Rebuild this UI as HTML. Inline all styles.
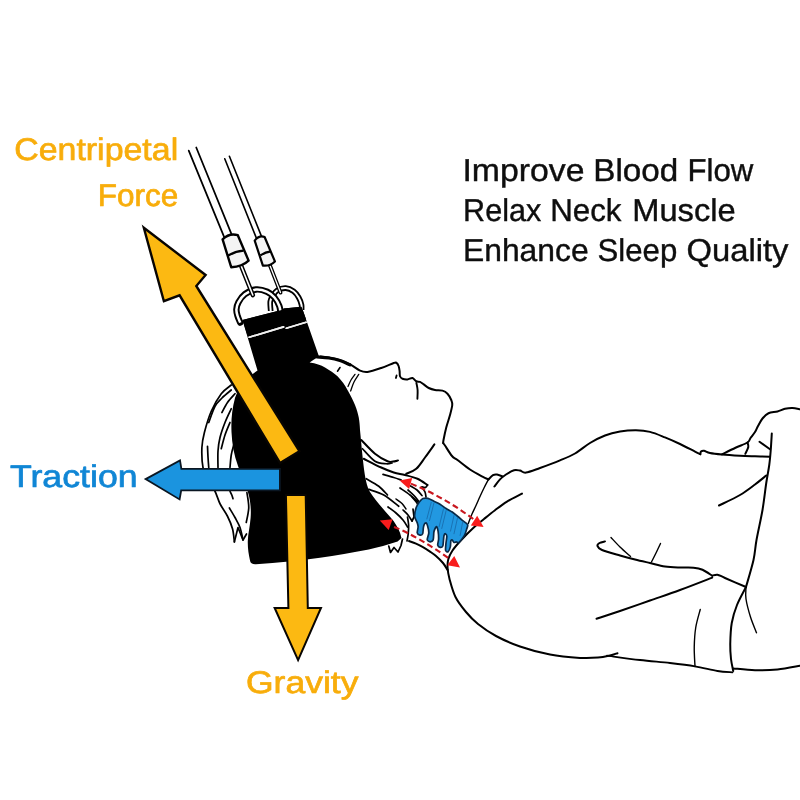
<!DOCTYPE html>
<html lang="en">
<head>
<meta charset="utf-8">
<title>Neck Hammock - Centripetal Force, Traction, Gravity</title>
<style>
html,body{margin:0;padding:0;background:#fff;}
body{width:800px;height:800px;overflow:hidden;font-family:"Liberation Sans",sans-serif;}
svg{display:block;position:absolute;left:0;top:0;}
text{font-family:"Liberation Sans",sans-serif;text-rendering:geometricPrecision;}
</style>
</head>
<body>
<svg width="800" height="800" viewBox="0 0 800 800" style="will-change:transform">
<rect x="0" y="0" width="800" height="800" fill="#ffffff"/>
<path d="M320.60 356.50 C322.00 356.68 326.18 357.12 329.00 357.60 C331.82 358.08 334.00 358.27 337.50 359.40 C341.00 360.53 346.25 362.53 350.00 364.40 C353.75 366.27 357.08 369.35 360.00 370.60 C362.92 371.85 363.96 372.33 367.50 371.90 C371.04 371.47 376.88 369.48 381.25 368.00 C385.62 366.52 391.21 363.87 393.75 363.00 C396.29 362.13 395.69 362.30 396.50 362.80 C397.31 363.30 398.08 364.63 398.60 366.00 C399.12 367.37 399.37 369.29 399.60 371.00 C399.83 372.71 399.52 374.96 400.00 376.25 C400.48 377.54 401.25 378.23 402.50 378.75 C403.75 379.27 405.83 379.52 407.50 379.40 C409.17 379.27 411.04 377.69 412.50 378.00 C413.96 378.31 415.00 380.60 416.25 381.25 C417.50 381.90 418.75 381.38 420.00 381.90 C421.25 382.42 422.29 383.38 423.75 384.40 C425.21 385.42 426.88 387.07 428.75 388.00 C430.62 388.93 432.71 389.57 435.00 390.00 C437.29 390.43 440.42 389.98 442.50 390.60 C444.58 391.23 446.04 392.18 447.50 393.75 C448.96 395.32 450.46 398.12 451.25 400.00 C452.04 401.88 452.46 402.50 452.25 405.00 C452.04 407.50 451.00 411.25 450.00 415.00 C449.00 418.75 447.33 423.33 446.25 427.50 C445.17 431.67 444.01 437.42 443.50 440.00 C442.99 442.58 443.25 442.50 443.20 443.00" fill="none" stroke="#000" stroke-width="2.0" stroke-linecap="round" stroke-linejoin="round" />
<path d="M317.00 357.00 C319.00 357.17 325.17 357.40 329.00 358.00 C332.83 358.60 336.50 359.47 340.00 360.60 C343.50 361.73 348.33 364.10 350.00 364.80" fill="none" stroke="#000" stroke-width="3.2" stroke-linecap="round" stroke-linejoin="round" />
<path d="M443.20 443.00 C443.50 443.42 443.53 443.33 445.00 445.50 C446.47 447.67 449.92 453.58 452.00 456.00 C454.08 458.42 454.50 457.75 457.50 460.00 C460.50 462.25 465.83 466.73 470.00 469.50 C474.17 472.27 479.42 474.95 482.50 476.60 C485.58 478.25 487.50 478.93 488.50 479.40" fill="none" stroke="#000" stroke-width="2.0" stroke-linecap="round" stroke-linejoin="round" />
<path d="M396.60 375.40 L395.90 378.00" fill="none" stroke="#000" stroke-width="1.8" stroke-linecap="round" stroke-linejoin="round" />
<path d="M416.40 383.00 C416.60 384.17 417.43 387.37 417.60 390.00 C417.77 392.63 417.43 397.33 417.40 398.80" fill="none" stroke="#000" stroke-width="1.9" stroke-linecap="round" stroke-linejoin="round" />
<path d="M434.40 444.40 C432.83 446.58 428.02 453.44 425.00 457.50 C421.98 461.56 419.38 466.04 416.25 468.75 C413.12 471.46 407.92 472.92 406.25 473.75" fill="none" stroke="#000" stroke-width="2.0" stroke-linecap="round" stroke-linejoin="round" />
<path d="M340.00 367.50 L337.50 371.20" fill="none" stroke="#000" stroke-width="1.6" stroke-linecap="round" stroke-linejoin="round" />
<path d="M355.00 374.40 C354.33 375.33 352.17 377.98 351.00 380.00 C349.83 382.02 348.50 385.42 348.00 386.50" fill="none" stroke="#000" stroke-width="1.3" stroke-linecap="round" stroke-linejoin="round" />
<path d="M358.75 374.40 C357.96 375.67 355.36 379.23 354.00 382.00 C352.64 384.77 351.17 389.50 350.60 391.00" fill="none" stroke="#000" stroke-width="1.3" stroke-linecap="round" stroke-linejoin="round" />
<path d="M488.50 479.40 C489.25 478.70 491.58 476.00 493.00 475.20 C494.42 474.40 495.42 474.40 497.00 474.60 C498.58 474.80 501.58 476.10 502.50 476.40" fill="none" stroke="#000" stroke-width="2.0" stroke-linecap="round" stroke-linejoin="round" />
<path d="M488.50 479.40 C487.75 480.83 485.42 485.15 484.00 488.00 C482.58 490.85 481.33 493.58 480.00 496.50 C478.67 499.42 477.33 502.58 476.00 505.50 C474.67 508.42 473.28 511.02 472.00 514.00 C470.72 516.98 468.92 521.83 468.30 523.40" fill="none" stroke="#000" stroke-width="1.4" stroke-linecap="round" stroke-linejoin="round" />
<path d="M494.40 486.50 C495.33 485.32 498.07 481.40 500.00 479.40 C501.93 477.40 503.67 476.03 506.00 474.50 C508.33 472.97 511.67 470.85 514.00 470.20 C516.33 469.55 518.00 470.20 520.00 470.60 C522.00 471.00 522.67 473.03 526.00 472.60 C529.33 472.17 534.33 470.03 540.00 468.00 C545.67 465.97 554.17 462.82 560.00 460.40 C565.83 457.98 570.00 456.40 575.00 453.50 C580.00 450.60 585.00 446.00 590.00 443.00 C595.00 440.00 600.00 437.40 605.00 435.50 C610.00 433.60 614.83 432.47 620.00 431.60 C625.17 430.73 631.00 430.25 636.00 430.30 C641.00 430.35 645.17 430.72 650.00 431.90 C654.83 433.08 660.00 435.38 665.00 437.40 C670.00 439.42 675.00 441.63 680.00 444.00 C685.00 446.37 691.62 449.90 695.00 451.60 C698.38 453.30 699.42 453.77 700.30 454.20" fill="none" stroke="#000" stroke-width="2.0" stroke-linecap="round" stroke-linejoin="round" />
<path d="M700.30 454.20 C700.42 453.77 700.38 452.17 701.00 451.60 C701.62 451.03 702.50 450.57 704.00 450.80 C705.50 451.03 707.00 452.38 710.00 453.00 C713.00 453.62 717.00 454.05 722.00 454.50 C727.00 454.95 734.50 455.40 740.00 455.70 C745.50 456.00 750.00 456.12 755.00 456.30 C760.00 456.48 767.50 456.68 770.00 456.75" fill="none" stroke="#000" stroke-width="2.0" stroke-linecap="round" stroke-linejoin="round" />
<path d="M522.00 493.60 C519.50 494.93 511.50 498.83 507.00 501.60 C502.50 504.37 498.83 507.30 495.00 510.20 C491.17 513.10 487.58 516.08 484.00 519.00 C480.42 521.92 477.29 524.25 473.50 527.75 C469.71 531.25 464.75 536.21 461.25 540.00 C457.75 543.79 454.66 547.29 452.50 550.50 C450.34 553.71 449.12 556.33 448.30 559.25 C447.48 562.17 447.40 564.71 447.60 568.00 C447.80 571.29 448.18 574.17 449.50 579.00 C450.82 583.83 452.75 591.50 455.50 597.00 C458.25 602.50 462.25 607.50 466.00 612.00 C469.75 616.50 473.00 620.00 478.00 624.00 C483.00 628.00 489.00 632.25 496.00 636.00 C503.00 639.75 511.00 643.40 520.00 646.50 C529.00 649.60 540.00 652.70 550.00 654.60 C560.00 656.50 572.00 657.40 580.00 657.90 C588.00 658.40 593.00 658.00 598.00 657.60 C603.00 657.20 606.75 656.23 610.00 655.50 C613.25 654.77 616.25 653.58 617.50 653.20" fill="none" stroke="#000" stroke-width="2.0" stroke-linecap="round" stroke-linejoin="round" />
<path d="M607.00 655.60 C612.50 656.33 629.50 658.77 640.00 660.00 C650.50 661.23 660.83 661.95 670.00 663.00 C679.17 664.05 687.08 664.97 695.00 666.30 C702.92 667.63 711.25 669.98 717.50 671.00 C723.75 672.02 730.00 672.17 732.50 672.40" fill="none" stroke="#000" stroke-width="1.8" stroke-linecap="round" stroke-linejoin="round" />
<path d="M733.30 668.40 C736.92 668.72 747.63 670.12 755.00 670.30 C762.37 670.48 770.00 670.25 777.50 669.50 C785.00 668.75 796.25 666.42 800.00 665.80" fill="none" stroke="#000" stroke-width="2.0" stroke-linecap="round" stroke-linejoin="round" />
<path d="M722.00 454.40 C724.25 453.29 731.25 449.73 735.50 447.75 C739.75 445.77 745.00 444.12 747.50 442.50 C750.00 440.88 749.25 439.75 750.50 438.00 C751.75 436.25 753.75 434.00 755.00 432.00 C756.25 430.00 756.75 428.25 758.00 426.00 C759.25 423.75 760.75 420.62 762.50 418.50 C764.25 416.38 766.00 414.42 768.50 413.25 C771.00 412.08 774.75 412.24 777.50 411.50 C780.25 410.76 782.50 409.38 785.00 408.80 C787.50 408.22 790.00 407.92 792.50 408.00 C795.00 408.08 798.75 409.08 800.00 409.30" fill="none" stroke="#000" stroke-width="2.0" stroke-linecap="round" stroke-linejoin="round" />
<path d="M747.50 442.50 C747.63 443.25 748.67 445.12 748.30 447.00 C747.93 448.88 745.80 452.67 745.30 453.80" fill="none" stroke="#000" stroke-width="2.0" stroke-linecap="round" stroke-linejoin="round" />
<path d="M759.50 441.75 L770.00 449.25" fill="none" stroke="#000" stroke-width="2.0" stroke-linecap="round" stroke-linejoin="round" />
<path d="M771.80 433.50 C771.62 436.25 771.17 444.75 770.75 450.00 C770.33 455.25 770.00 459.50 769.25 465.00 C768.50 470.50 767.38 475.50 766.25 483.00 C765.12 490.50 764.12 500.50 762.50 510.00 C760.88 519.50 758.00 531.67 756.50 540.00 C755.00 548.33 755.25 552.17 753.50 560.00 C751.75 567.83 747.25 582.50 746.00 587.00" fill="none" stroke="#000" stroke-width="2.0" stroke-linecap="round" stroke-linejoin="round" />
<path d="M719.00 505.50 C722.50 503.75 734.00 498.50 740.00 495.00 C746.00 491.50 750.62 487.75 755.00 484.50 C759.38 481.25 764.38 477.00 766.25 475.50" fill="none" stroke="#000" stroke-width="2.0" stroke-linecap="round" stroke-linejoin="round" />
<path d="M605.00 541.40 C604.08 541.67 600.75 542.23 599.50 543.00 C598.25 543.77 597.08 544.83 597.50 546.00 C597.92 547.17 598.25 548.42 602.00 550.00 C605.75 551.58 614.50 553.92 620.00 555.50 C625.50 557.08 630.00 558.25 635.00 559.50 C640.00 560.75 645.00 561.85 650.00 563.00 C655.00 564.15 660.00 565.65 665.00 566.40 C670.00 567.15 675.25 567.28 680.00 567.50 C684.75 567.72 689.75 567.33 693.50 567.70 C697.25 568.08 699.38 568.41 702.50 569.75 C705.62 571.09 710.62 574.75 712.25 575.75" fill="none" stroke="#000" stroke-width="2.0" stroke-linecap="round" stroke-linejoin="round" />
<path d="M712.25 575.75 C713.12 575.58 715.38 574.33 717.50 574.70 C719.62 575.08 720.25 575.95 725.00 578.00 C729.75 580.05 742.50 585.50 746.00 587.00" fill="none" stroke="#000" stroke-width="2.0" stroke-linecap="round" stroke-linejoin="round" />
<path d="M611.00 537.50 C612.50 539.08 616.75 543.83 620.00 547.00 C623.25 550.17 628.75 554.92 630.50 556.50" fill="none" stroke="#000" stroke-width="1.4" stroke-linecap="round" stroke-linejoin="round" />
<path d="M660.50 543.50 C659.75 545.08 657.50 549.92 656.00 553.00 C654.50 556.08 652.25 560.50 651.50 562.00" fill="none" stroke="#000" stroke-width="1.4" stroke-linecap="round" stroke-linejoin="round" />
<path d="M712.25 577.60 C706.88 579.67 690.38 586.18 680.00 590.00 C669.62 593.82 660.00 597.00 650.00 600.50 C640.00 604.00 628.92 607.97 620.00 611.00 C611.08 614.03 600.42 617.42 596.50 618.70" fill="none" stroke="#000" stroke-width="2.0" stroke-linecap="round" stroke-linejoin="round" />
<path d="M746.00 587.00 C744.50 590.00 739.38 599.00 737.00 605.00 C734.62 611.00 732.88 616.50 731.75 623.00 C730.62 629.50 730.38 638.00 730.25 644.00 C730.12 650.00 730.50 654.50 731.00 659.00 C731.50 663.50 732.88 669.00 733.25 671.00" fill="none" stroke="#000" stroke-width="2.0" stroke-linecap="round" stroke-linejoin="round" />
<path d="M746.00 587.00 C746.00 589.00 745.25 594.00 746.00 599.00 C746.75 604.00 748.75 611.38 750.50 617.00 C752.25 622.62 755.50 630.12 756.50 632.75" fill="none" stroke="#000" stroke-width="1.4" stroke-linecap="round" stroke-linejoin="round" />
<path d="M700.25 609.50 C699.50 612.50 696.75 621.25 695.75 627.50 C694.75 633.75 694.38 640.50 694.25 647.00 C694.12 653.50 694.88 663.25 695.00 666.50" fill="none" stroke="#000" stroke-width="1.4" stroke-linecap="round" stroke-linejoin="round" />
<path d="M361.25 440.00 C363.54 442.29 370.62 450.21 375.00 453.75 C379.38 457.29 384.50 459.94 387.50 461.25 C390.50 462.56 391.25 461.74 393.00 461.60 C394.75 461.46 397.17 460.60 398.00 460.40" fill="none" stroke="#000" stroke-width="2.0" stroke-linecap="round" stroke-linejoin="round" />
<path d="M362.50 448.75 C364.58 450.83 371.04 458.75 375.00 461.25 C378.96 463.75 383.42 463.46 386.25 463.75 C389.08 464.04 391.04 463.12 392.00 463.00" fill="none" stroke="#000" stroke-width="1.7" stroke-linecap="round" stroke-linejoin="round" />
<path d="M363.75 458.75 C366.67 460.21 376.25 465.21 381.25 467.50 C386.25 469.79 389.79 471.25 393.75 472.50 C397.71 473.75 401.04 473.96 405.00 475.00 C408.96 476.04 413.75 477.08 417.50 478.75 C421.25 480.42 425.83 483.96 427.50 485.00" fill="none" stroke="#000" stroke-width="2.0" stroke-linecap="round" stroke-linejoin="round" />
<path d="M383.00 474.40 C384.79 474.92 390.71 476.57 393.75 477.50 C396.79 478.43 400.00 479.58 401.25 480.00" fill="none" stroke="#000" stroke-width="1.7" stroke-linecap="round" stroke-linejoin="round" />
<path d="M366.25 478.75 C368.33 480.00 375.21 483.54 378.75 486.25 C382.29 488.96 386.04 493.54 387.50 495.00" fill="none" stroke="#000" stroke-width="1.7" stroke-linecap="round" stroke-linejoin="round" />
<path d="M368.75 489.40 C371.25 490.33 378.75 492.19 383.75 495.00 C388.75 497.81 396.25 504.38 398.75 506.25" fill="none" stroke="#000" stroke-width="1.7" stroke-linecap="round" stroke-linejoin="round" />
<path d="M400.00 488.00 C401.67 489.17 406.88 492.58 410.00 495.00 C413.12 497.42 417.29 501.25 418.75 502.50" fill="none" stroke="#000" stroke-width="1.7" stroke-linecap="round" stroke-linejoin="round" />
<path d="M388.00 507.00 C389.33 508.00 393.50 510.83 396.00 513.00 C398.50 515.17 401.08 517.67 403.00 520.00 C404.92 522.33 406.75 525.83 407.50 527.00" fill="none" stroke="#000" stroke-width="1.7" stroke-linecap="round" stroke-linejoin="round" />
<path d="M403.00 510.00 C403.83 510.83 406.50 513.17 408.00 515.00 C409.50 516.83 411.33 520.00 412.00 521.00" fill="none" stroke="#000" stroke-width="1.7" stroke-linecap="round" stroke-linejoin="round" />
<path d="M412.00 521.00 L414.00 517.00 L413.00 509.00" fill="none" stroke="#000" stroke-width="1.7" stroke-linecap="round" stroke-linejoin="round" />
<path d="M407.50 517.00 C407.68 518.33 408.48 522.17 408.60 525.00 C408.72 527.83 408.47 531.33 408.20 534.00 C407.93 536.67 407.20 539.83 407.00 541.00" fill="none" stroke="#000" stroke-width="1.7" stroke-linecap="round" stroke-linejoin="round" />
<path d="M412.00 497.00 C412.83 498.00 415.67 501.00 417.00 503.00 C418.33 505.00 419.50 508.00 420.00 509.00" fill="none" stroke="#000" stroke-width="1.7" stroke-linecap="round" stroke-linejoin="round" />
<path d="M427.50 485.00 C427.17 485.42 426.42 487.17 425.50 487.50 C424.58 487.83 422.58 487.08 422.00 487.00" fill="none" stroke="#000" stroke-width="1.7" stroke-linecap="round" stroke-linejoin="round" />
<path d="M422.00 487.00 C422.50 487.83 424.33 490.33 425.00 492.00 C425.67 493.67 425.83 496.17 426.00 497.00" fill="none" stroke="#000" stroke-width="1.7" stroke-linecap="round" stroke-linejoin="round" />
<path d="M408.00 490.00 C409.00 490.92 412.25 493.67 414.00 495.50 C415.75 497.33 417.75 500.08 418.50 501.00" fill="none" stroke="#000" stroke-width="1.7" stroke-linecap="round" stroke-linejoin="round" />
<path d="M410.50 486.00 C411.58 486.67 415.08 488.42 417.00 490.00 C418.92 491.58 421.17 494.58 422.00 495.50" fill="none" stroke="#000" stroke-width="1.7" stroke-linecap="round" stroke-linejoin="round" />
<path d="M396.00 499.00 C397.00 499.75 400.33 501.83 402.00 503.50 C403.67 505.17 405.33 508.08 406.00 509.00" fill="none" stroke="#000" stroke-width="1.5" stroke-linecap="round" stroke-linejoin="round" />
<path d="M388.75 546.00 L390.50 552.50 L394.00 547.50 L398.00 552.00 L401.00 545.50 L402.50 539.00" fill="none" stroke="#000" stroke-width="1.7" stroke-linecap="round" stroke-linejoin="round" />
<path d="M409.00 541.00 C410.17 541.43 413.75 542.62 416.00 543.60 C418.25 544.58 420.17 545.57 422.50 546.90 C424.83 548.23 427.75 550.08 430.00 551.60 C432.25 553.12 433.83 554.10 436.00 556.00 C438.17 557.90 441.07 560.67 443.00 563.00 C444.93 565.33 446.83 568.83 447.60 570.00" fill="none" stroke="#000" stroke-width="2.0" stroke-linecap="round" stroke-linejoin="round" />
<path d="M231.25 385.00 C229.58 386.46 224.58 389.38 221.25 393.75 C217.92 398.12 214.06 404.79 211.25 411.25 C208.44 417.71 205.96 426.46 204.40 432.50 C202.84 438.54 202.13 441.67 201.90 447.50 C201.67 453.33 201.98 462.08 203.00 467.50 C204.02 472.92 206.00 476.04 208.00 480.00 C210.00 483.96 213.00 487.29 215.00 491.25 C217.00 495.21 217.92 499.58 220.00 503.75 C222.08 507.92 225.42 512.08 227.50 516.25 C229.58 520.42 231.35 524.48 232.50 528.75 C233.65 533.02 234.08 539.71 234.40 541.90" fill="none" stroke="#000" stroke-width="1.7" stroke-linecap="round" stroke-linejoin="round" />
<path d="M231.25 390.00 C229.71 391.33 224.71 395.29 222.00 398.00 C219.29 400.71 217.21 402.17 215.00 406.25 C212.79 410.33 209.79 419.79 208.75 422.50" fill="none" stroke="#000" stroke-width="1.7" stroke-linecap="round" stroke-linejoin="round" />
<path d="M235.00 393.75 C233.75 395.21 229.68 399.38 227.50 402.50 C225.32 405.62 222.83 410.83 221.90 412.50" fill="none" stroke="#000" stroke-width="1.7" stroke-linecap="round" stroke-linejoin="round" />
<path d="M231.25 408.75 C230.21 411.04 226.88 417.71 225.00 422.50 C223.12 427.29 221.17 432.75 220.00 437.50 C218.83 442.25 218.33 446.00 218.00 451.00 C217.67 456.00 218.00 464.75 218.00 467.50" fill="none" stroke="#000" stroke-width="1.7" stroke-linecap="round" stroke-linejoin="round" />
<path d="M230.00 422.50 C229.17 424.58 226.46 430.62 225.00 435.00 C223.54 439.38 221.88 446.46 221.25 448.75" fill="none" stroke="#000" stroke-width="1.7" stroke-linecap="round" stroke-linejoin="round" />
<path d="M207.50 446.25 C207.58 448.04 207.79 453.46 208.00 457.00 C208.21 460.54 208.62 465.75 208.75 467.50" fill="none" stroke="#000" stroke-width="1.7" stroke-linecap="round" stroke-linejoin="round" />
<path d="M233.75 445.00 C233.33 446.67 231.88 451.25 231.25 455.00 C230.62 458.75 230.21 465.42 230.00 467.50" fill="none" stroke="#000" stroke-width="1.7" stroke-linecap="round" stroke-linejoin="round" />
<path d="M230.00 491.25 C230.30 491.88 231.30 493.75 231.80 495.00 C232.30 496.25 232.80 498.12 233.00 498.75" fill="none" stroke="#000" stroke-width="1.7" stroke-linecap="round" stroke-linejoin="round" />
<path d="M229.40 508.00 C230.33 509.58 233.23 514.25 235.00 517.50 C236.77 520.75 238.67 523.75 240.00 527.50 C241.33 531.25 242.50 537.92 243.00 540.00" fill="none" stroke="#000" stroke-width="1.7" stroke-linecap="round" stroke-linejoin="round" />
<path d="M234.40 541.90 L238.00 527.50 L243.00 540.00 L246.50 534.00" fill="none" stroke="#000" stroke-width="1.7" stroke-linecap="round" stroke-linejoin="round" />
<path d="M246.90 492.50 C247.21 495.00 248.86 502.50 248.75 507.50 C248.64 512.50 246.67 520.00 246.25 522.50" fill="none" stroke="#000" stroke-width="1.7" stroke-linecap="round" stroke-linejoin="round" />
<path d="M242.5 320 L282.6 309.8 L283.6 308.4 L301.6 306.8 L319 356.5 L314 359.6 L309.6 362.4 C316 363.2 321 365 325 367.5 C330 370.5 334 373 337.5 376.25 C342 381 345 385 347.5 390 C351 396 353 400 355 405 C357 410 358 414 358.75 417.5 C359.4 421 359.8 425 360 430 C361 440 362 452 363.5 465 C365 478 367 487 370 492 C375 500 386 512 393.75 521.25 C397 526 400 531 401.5 538 L397.6 541.6 C388 544.8 378 547.6 368.75 549.4 C352 552.4 336 555.6 320 557.8 C300 560.4 278 562.8 256 564.2 C252.4 564.4 250.4 563.4 250 560.6 C248.6 554 247.6 548 247.8 541 C248 534 250 526 250.6 518 C251.2 510 250.6 503 249 496 C247 487 241.5 476 238 466 C234 455 232 444 231.5 432 C231 420 232 409 235 398 C238 389 246 378 257.5 370.5 Z" fill="#000" stroke="none" stroke-width="0" stroke-linejoin="round" />
<path d="M249.20 337.20 L283.60 326.90" fill="none" stroke="#f0f0f0" stroke-width="1.7" stroke-linecap="round" stroke-linejoin="round" />
<path d="M286.30 328.20 L306.10 322.30" fill="none" stroke="#f0f0f0" stroke-width="1.7" stroke-linecap="round" stroke-linejoin="round" />
<path d="M270.70 311.00 C270.63 309.42 269.95 304.03 270.30 301.50 C270.65 298.97 271.63 297.65 272.80 295.80 C273.97 293.95 275.14 291.68 277.30 290.40 C279.46 289.12 283.03 287.95 285.75 288.10 C288.47 288.25 291.44 289.73 293.60 291.30 C295.76 292.87 297.38 295.25 298.70 297.50 C300.02 299.75 301.02 302.72 301.50 304.80 C301.98 306.88 301.58 309.13 301.60 310.00" fill="none" stroke="#000" stroke-width="5.6" stroke-linecap="butt"/>
<path d="M270.70 311.00 C270.63 309.42 269.95 304.03 270.30 301.50 C270.65 298.97 271.63 297.65 272.80 295.80 C273.97 293.95 275.14 291.68 277.30 290.40 C279.46 289.12 283.03 287.95 285.75 288.10 C288.47 288.25 291.44 289.73 293.60 291.30 C295.76 292.87 297.38 295.25 298.70 297.50 C300.02 299.75 301.02 302.72 301.50 304.80 C301.98 306.88 301.58 309.13 301.60 310.00" fill="none" stroke="#fff" stroke-width="2.0" stroke-linecap="butt"/>
<path d="M240.20 322.60 C239.77 321.50 238.23 318.18 237.60 316.00 C236.97 313.82 236.27 311.77 236.40 309.50 C236.53 307.23 236.98 304.95 238.40 302.40 C239.82 299.85 241.97 296.35 244.90 294.20 C247.83 292.05 252.28 289.90 256.00 289.50 C259.72 289.10 264.12 290.47 267.20 291.80 C270.28 293.13 272.48 295.13 274.50 297.50 C276.52 299.87 278.32 303.58 279.30 306.00 C280.28 308.42 280.22 311.00 280.40 312.00" fill="none" stroke="#000" stroke-width="6.4" stroke-linecap="round"/>
<path d="M240.20 322.60 C239.77 321.50 238.23 318.18 237.60 316.00 C236.97 313.82 236.27 311.77 236.40 309.50 C236.53 307.23 236.98 304.95 238.40 302.40 C239.82 299.85 241.97 296.35 244.90 294.20 C247.83 292.05 252.28 289.90 256.00 289.50 C259.72 289.10 264.12 290.47 267.20 291.80 C270.28 293.13 272.48 295.13 274.50 297.50 C276.52 299.87 278.32 303.58 279.30 306.00 C280.28 308.42 280.22 311.00 280.40 312.00" fill="none" stroke="#fff" stroke-width="2.5" stroke-linecap="butt"/>
<path d="M242.5 320 L282.6 309.8 L283.6 308.4 L301.6 306.8 L306 319 L247 334 Z" fill="#000" stroke="none" stroke-width="0" stroke-linejoin="round" />
<path d="M249.20 337.20 L283.60 326.90" fill="none" stroke="#f0f0f0" stroke-width="1.7" stroke-linecap="round" stroke-linejoin="round" />
<path d="M286.30 328.20 L306.10 322.30" fill="none" stroke="#f0f0f0" stroke-width="1.7" stroke-linecap="round" stroke-linejoin="round" />
<path d="M188.75 150.60 L224.60 238.20" fill="none" stroke="#000" stroke-width="1.75" stroke-linecap="round" stroke-linejoin="round" />
<path d="M196.25 147.50 L231.60 234.40" fill="none" stroke="#000" stroke-width="1.75" stroke-linecap="round" stroke-linejoin="round" />
<path d="M224.75 158.75 L256.60 238.60" fill="none" stroke="#000" stroke-width="1.6" stroke-linecap="round" stroke-linejoin="round" />
<path d="M229.40 156.25 L261.60 236.60" fill="none" stroke="#000" stroke-width="1.6" stroke-linecap="round" stroke-linejoin="round" />
<path d="M240.60 264.50 L252.80 295.00" stroke="#000" stroke-width="4.6" stroke-linecap="round" fill="none"/>
<path d="M240.60 264.50 L252.80 295.00" stroke="#fff" stroke-width="1.6" stroke-linecap="round" fill="none"/>
<path d="M269.40 264.00 L280.50 292.60" stroke="#000" stroke-width="3.9" stroke-linecap="round" fill="none"/>
<path d="M269.40 264.00 L280.50 292.60" stroke="#fff" stroke-width="1.3" stroke-linecap="round" fill="none"/>
<path d="M222.60 239.40 Q229.40 232.60 237.80 235.20 L248.60 260.60 Q242.40 266.60 231.20 267.20 Z" fill="#f4f4f4" stroke="#000" stroke-width="2.4" stroke-linejoin="round"/>
<path d="M227.80 255.80 Q235.40 251.00 243.60 250.60" stroke="#000" stroke-width="2.4" fill="none"/>
<path d="M254.70 240.60 Q259.40 234.80 264.60 237.00 L274.90 261.40 Q270.00 266.40 262.90 265.60 Z" fill="#f4f4f4" stroke="#000" stroke-width="2.2" stroke-linejoin="round"/>
<path d="M260.40 255.40 Q265.60 252.00 270.80 251.40" stroke="#000" stroke-width="2.2" fill="none"/>
<path d="M422.94 498.57 C424.03 498.15 426.47 498.05 427.93 498.40 C429.38 498.75 432.26 500.43 433.88 501.20 C435.49 501.97 438.37 503.19 440.00 504.18 C441.63 505.16 444.49 507.50 446.12 508.55 C447.76 509.60 450.73 511.02 452.25 512.05 C453.77 513.08 456.10 515.11 457.50 516.25 C458.90 517.39 461.40 519.50 462.75 520.62 C464.10 521.75 467.14 523.48 467.65 524.65 C468.16 525.82 466.97 528.04 466.60 529.38 C466.23 530.71 465.46 533.34 464.85 534.62 C464.24 535.91 462.89 537.93 462.05 539.00 C461.21 540.07 459.33 542.30 458.55 542.67 C457.77 543.05 456.79 541.82 456.19 541.80 C455.58 541.78 454.52 542.73 454.00 542.50 C453.48 542.27 452.67 540.28 452.25 540.05 C451.83 539.82 451.11 539.84 450.85 540.75 C450.59 541.66 450.70 545.40 450.32 546.88 C449.95 548.35 448.68 551.31 448.05 551.77 C447.42 552.24 445.88 551.50 445.60 550.38 C445.32 549.25 445.79 545.24 445.95 543.38 C446.11 541.51 446.89 537.66 446.82 536.38 C446.75 535.09 445.80 533.87 445.43 533.75 C445.05 533.63 444.28 534.68 444.02 535.50 C443.77 536.32 443.66 538.48 443.50 539.88 C443.34 541.27 443.24 545.00 442.80 546.00 C442.36 547.00 440.85 547.52 440.18 547.40 C439.50 547.28 437.94 546.25 437.73 545.12 C437.52 544.00 438.55 540.87 438.60 539.00 C438.65 537.13 438.33 532.76 438.07 531.12 C437.82 529.49 437.07 527.10 436.68 526.75 C436.28 526.40 435.47 527.80 435.10 528.50 C434.73 529.20 434.13 530.48 433.88 532.00 C433.62 533.52 433.69 538.57 433.18 539.88 C432.66 541.18 430.82 541.85 430.02 541.80 C429.23 541.75 427.39 540.71 427.23 539.52 C427.06 538.34 428.75 534.70 428.80 532.88 C428.85 531.05 427.95 527.22 427.57 525.88 C427.20 524.53 426.42 523.05 426.00 522.81 C425.58 522.58 424.78 523.48 424.43 524.12 C424.07 524.77 423.61 526.34 423.38 527.62 C423.14 528.91 423.14 532.75 422.68 533.75 C422.21 534.75 420.60 535.27 419.88 535.15 C419.15 535.03 417.48 534.00 417.25 532.88 C417.02 531.75 418.15 528.15 418.12 526.75 C418.10 525.35 417.54 523.77 417.07 522.38 C416.61 520.98 414.74 518.23 414.62 516.25 C414.51 514.27 415.52 509.46 416.20 507.50 C416.88 505.54 418.80 502.74 419.70 501.55 C420.60 500.36 421.84 499.00 422.94 498.57Z" fill="#2298e1" stroke="#0a2a48" stroke-width="1.7" stroke-linejoin="round"/>
<path d="M431.25 502.25 L426.88 518.88" fill="none" stroke="#1668a8" stroke-width="0.8" stroke-linecap="round" stroke-linejoin="round" />
<path d="M433.88 503.12 L429.50 520.62" fill="none" stroke="#1668a8" stroke-width="0.8" stroke-linecap="round" stroke-linejoin="round" />
<path d="M443.50 508.81 L439.12 526.75" fill="none" stroke="#1668a8" stroke-width="0.8" stroke-linecap="round" stroke-linejoin="round" />
<path d="M446.12 510.56 L441.75 528.50" fill="none" stroke="#1668a8" stroke-width="0.8" stroke-linecap="round" stroke-linejoin="round" />
<path d="M454.00 515.38 L450.50 531.12" fill="none" stroke="#1668a8" stroke-width="0.8" stroke-linecap="round" stroke-linejoin="round" />
<path d="M457.50 518.00 L454.00 533.75" fill="none" stroke="#1668a8" stroke-width="0.8" stroke-linecap="round" stroke-linejoin="round" />
<path d="M462.75 521.50 L460.12 535.50" fill="none" stroke="#1668a8" stroke-width="0.8" stroke-linecap="round" stroke-linejoin="round" />
<path d="M411 483.6 Q444 497 474 519.6" stroke="#c8161e" stroke-width="2.1" stroke-dasharray="6 3.4" fill="none"/>
<path d="M394 527 C410 533 430 545 449.5 558.8" stroke="#c8161e" stroke-width="2.1" stroke-dasharray="6 3.4" fill="none"/>
<path d="M399.60 480.40 L412.23 478.00 L409.10 489.06Z" fill="#f81c1c" stroke="none" stroke-width="0" stroke-linejoin="round" />
<path d="M483.60 527.00 L470.84 525.44 L477.19 515.85Z" fill="#f81c1c" stroke="none" stroke-width="0" stroke-linejoin="round" />
<path d="M379.80 520.60 L392.57 519.13 L388.64 529.93Z" fill="#f81c1c" stroke="none" stroke-width="0" stroke-linejoin="round" />
<path d="M460.00 567.60 L447.35 565.30 L454.25 556.10Z" fill="#f81c1c" stroke="none" stroke-width="0" stroke-linejoin="round" />
<path d="M143.80 227.70 L205.60 275.00 L196.30 286.00 L299.40 451.20 L280.10 463.10 L179.60 295.30 L163.90 301.20Z" fill="#fcb912" stroke="#080502" stroke-width="2.4" stroke-linejoin="miter" stroke-miterlimit="6"/>
<path d="M145.60 479.10 L180.00 460.40 L181.40 468.80 L279.90 468.80 L279.90 490.40 L181.20 490.40 L179.60 499.40Z" fill="#1b94df" stroke="#0a1622" stroke-width="1.8" stroke-linejoin="miter" stroke-miterlimit="6"/>
<path d="M285.90 494.90 L305.70 494.90 L307.80 607.90 L320.97 607.90 L298.09 660.04 L274.65 607.90 L288.40 607.90Z" fill="#fcb912" stroke="#080502" stroke-width="2.0" stroke-linejoin="miter" stroke-miterlimit="6"/>
<text x="14.2" y="160.3" font-size="31.2" fill="#f8ad0b" textLength="164" lengthAdjust="spacingAndGlyphs" text-anchor="start" stroke="#f8ad0b" stroke-width="0.7" stroke-linejoin="round">Centripetal</text>
<text x="97.8" y="206" font-size="31.2" fill="#f8ad0b" textLength="80.4" lengthAdjust="spacingAndGlyphs" text-anchor="start" stroke="#f8ad0b" stroke-width="0.7" stroke-linejoin="round">Force</text>
<text x="10.0" y="487" font-size="31.2" fill="#1086d5" textLength="127.6" lengthAdjust="spacingAndGlyphs" text-anchor="start" stroke="#1086d5" stroke-width="0.7" stroke-linejoin="round">Traction</text>
<text x="246.0" y="693" font-size="31.2" fill="#f8ad0b" textLength="112.4" lengthAdjust="spacingAndGlyphs" text-anchor="start" stroke="#f8ad0b" stroke-width="0.7" stroke-linejoin="round">Gravity</text>
<text y="181" font-size="31.6" fill="#0e0e0e" stroke="#0e0e0e" stroke-width="0.4" stroke-linejoin="round"><tspan x="462.46" textLength="121.97" lengthAdjust="spacingAndGlyphs">Improve</tspan> <tspan x="593.24" textLength="84.93" lengthAdjust="spacingAndGlyphs">Blood</tspan> <tspan x="687.41" textLength="65.89" lengthAdjust="spacingAndGlyphs">Flow</tspan></text>
<text y="221" font-size="31.6" fill="#0e0e0e" stroke="#0e0e0e" stroke-width="0.4" stroke-linejoin="round"><tspan x="463.11" textLength="78.15" lengthAdjust="spacingAndGlyphs">Relax</tspan> <tspan x="550.20" textLength="71.31" lengthAdjust="spacingAndGlyphs">Neck</tspan> <tspan x="632.26" textLength="103.40" lengthAdjust="spacingAndGlyphs">Muscle</tspan></text>
<text y="261" font-size="31.6" fill="#0e0e0e" stroke="#0e0e0e" stroke-width="0.4" stroke-linejoin="round"><tspan x="462.94" textLength="125.72" lengthAdjust="spacingAndGlyphs">Enhance</tspan> <tspan x="597.58" textLength="79.62" lengthAdjust="spacingAndGlyphs">Sleep</tspan> <tspan x="686.47" textLength="101.96" lengthAdjust="spacingAndGlyphs">Quality</tspan></text>
</svg>
</body>
</html>
